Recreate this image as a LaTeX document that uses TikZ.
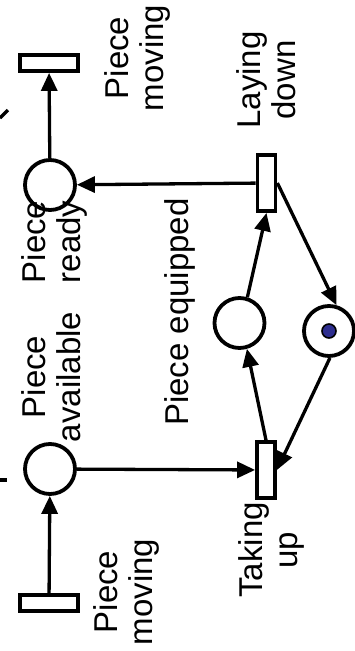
\documentclass[tikz,border=0pt]{standalone}
\usepackage{fontspec}
\setmainfont{Liberation Sans}
\usetikzlibrary{arrows.meta}
\definecolor{TokenClr}{rgb}{0.18,0.18,0.56}

\begin{document}
\begin{tikzpicture}[x=1pt,y=-1pt,
  place/.style={circle,draw,line width=3.8pt,minimum size=50pt,inner sep=0pt},
  htrans/.style={rectangle,draw,line width=3.8pt,minimum width=58pt,minimum height=16pt,inner sep=0pt},
  vtrans/.style={rectangle,draw,line width=3.8pt,minimum width=18pt,minimum height=56pt,inner sep=0pt},
  arc/.style={line width=3.3pt,-{Triangle[length=18pt,width=16pt]}},
  lbl/.style={rotate=90,align=center,inner sep=0pt,font=\fontsize{33}{35}\selectfont}]
\useasboundingbox (0,0) rectangle (354,651);

\node[htrans] (moveT) at (49,63) {};
\node[htrans] (moveB) at (49,603) {};
\node[place] (ready) at (50,185) {};
\node[place] (avail) at (50,469) {};
\node[vtrans] (layDown) at (266.5,183) {};
\node[vtrans] (takeUp) at (266,470) {};
\node[place] (equipped) at (239.5,323) {};
\node[place] (token) at (329,331) {};
\fill[TokenClr] (token) circle (7pt);
\draw[line width=1.6pt] (token) circle (7pt);

\draw[arc] (ready) -- (moveT);
\draw[arc] (layDown) -- (ready);
\draw[arc] (moveB) -- (avail);
\draw[arc] (avail) -- (takeUp);
\draw[arc] (takeUp.north) -- (equipped.-74);
\draw[arc] (equipped.73) -- (layDown.south);
\draw[arc] (layDown.east) -- (token.74);
\draw[arc] (token.-88) -- (takeUp.east);

% cut-off strokes at the left edge
\draw[line width=3.3pt] (0,118) -- (8,110);
\draw[line width=3.3pt] (0,480) -- (7,480);

\node[lbl] (lblMoveT) at (137,58) {Piece\\moving};
\node[lbl] (lblLay) at (266,80) {Laying\\down};
\node[lbl] (lblReady) at (54,242) {Piece\\ready};
\node[lbl] (lblAvail) at (51.5,377) {Piece\\available};
\node[lbl] (lblEquip) at (180,312) {Piece equipped};
\node[lbl] (lblTake) at (271,550) {Taking\\up};
\node[lbl] (lblMoveB) at (126,592) {Piece\\moving};

\end{tikzpicture}
\end{document}
